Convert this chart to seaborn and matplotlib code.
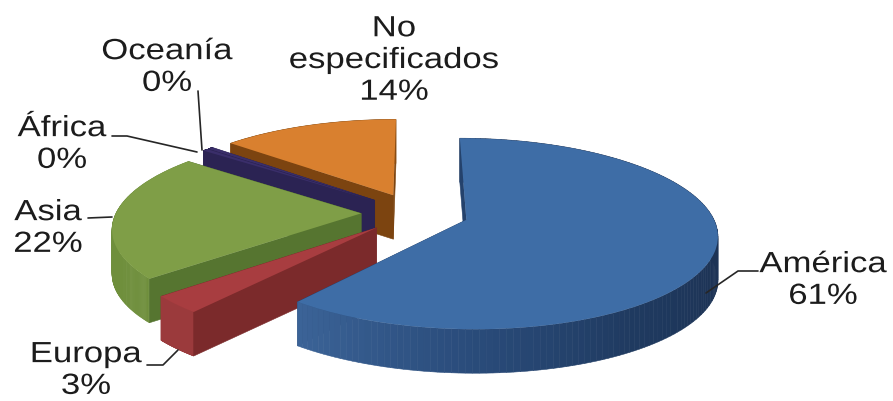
import numpy as np
import seaborn as sns
import matplotlib
matplotlib.use("Agg")
import matplotlib.pyplot as plt
from matplotlib.patheffects import AbstractPathEffect
from matplotlib.transforms import Affine2D, Transform

# Share of each region, in percent (the two smallest round down to 0%)
regions = ["América", "Europa", "Asia", "África", "Oceanía", "No\nespecificados"]
shares = [60.8, 3.0, 21.8, 0.4, 0.4, 13.6]

top_colors = ["#3e6da6", "#a83d40", "#7f9e47", "#3a2e6a", "#3a2e6a", "#d9802f"]
rim_ramps = [
    ["#3b6397", "#2a4c7b", "#1f3a60", "#1d3355", "#1d3355", "#1d3355", "#1d3355"],
    ["#9b3a3c", "#9b3a3c"],
    ["#6f8f3c", "#6f8f3c"],
    ["#2b2353", "#2b2353"],
    ["#2b2353", "#2b2353"],
    ["#8a4d12", "#8a4d12"],
]
face_colors = ["#24426c", "#7b2a2b", "#567530", "#2b2353", "#2b2353", "#7c4410"]

# Slices are painted from the back of the pie to the front
paint_order = [5, 4, 3, 2, 1, 0]
DEPTH = 44
RIM_STEPS = 160


class TiltedDisk(Transform):
    """Perspective view of the unit pie, giving figure pixel coordinates."""
    input_dims = output_dims = 2
    is_separable = False

    def __init__(self, cx=415, cy=213, rx=245, ry=91.5, k=0.1444):
        super().__init__()
        self.params = cx, cy, rx, ry, k

    def transform_non_affine(self, values):
        values = np.asarray(values, dtype=float)
        cx, cy, rx, ry, k = self.params
        w = 1.0 / (1.0 + k * values[:, 1])
        return np.column_stack((cx + rx * values[:, 0] * w,
                                cy - ry * values[:, 1] * w))


class Widen(AbstractPathEffect):
    """Stretch glyph outlines horizontally about the middle of each line."""

    def __init__(self, factor):
        super().__init__()
        self.factor = factor

    def draw_path(self, renderer, gc, tpath, affine, rgbFace=None):
        box = tpath.get_extents()
        mid = (box.x0 + box.x1) / 2
        stretch = Affine2D().translate(-mid, 0).scale(self.factor, 1).translate(mid, 0)
        renderer.draw_path(gc, tpath, stretch + affine, rgbFace)


sns.set_theme(style="white")
plt.rcParams["font.family"] = ["Liberation Sans", "DejaVu Sans"]

fig = plt.figure(figsize=(8.93, 4.01), dpi=100, facecolor="white")
ax = fig.add_axes([0, 0, 1, 1])
wedges, _ = ax.pie(shares, colors=top_colors, startangle=90, counterclock=False,
                   explode=[0.22] * len(shares), wedgeprops={"linewidth": 0})
ax.set_aspect("auto")
ax.set_xlim(0, 893)
ax.set_ylim(401, 0)
ax.axis("off")

tilt = TiltedDisk()


def rim_point(wedge, angles):
    """Pixel positions of points on a slice's outer edge."""
    rad = np.radians(angles)
    uv = np.column_stack((wedge.center[0] + np.cos(rad),
                          wedge.center[1] + np.sin(rad)))
    return tilt.transform(uv)


def radial_face(wedge, angle, color, z):
    """Cut face of a slice running from its apex to the rim."""
    apex = tilt.transform(np.array([wedge.center]))[0]
    end = rim_point(wedge, [angle])[0]
    xs = [apex[0], end[0], end[0], apex[0]]
    ys = [apex[1], end[1], end[1] + DEPTH, apex[1] + DEPTH]
    ax.fill(xs, ys, color=color, lw=0.4, zorder=z)


for z, idx in enumerate(paint_order, start=2):
    wedge = wedges[idx]
    radial_face(wedge, wedge.theta1, face_colors[idx], z)
    ramp = sns.blend_palette(rim_ramps[idx], RIM_STEPS)
    angles = np.linspace(wedge.theta1, wedge.theta2, RIM_STEPS + 1)
    arc = rim_point(wedge, angles)
    for j in range(RIM_STEPS):
        a, b = arc[j], arc[j + 1]
        ax.fill([a[0], b[0], b[0], a[0]],
                [a[1], b[1], b[1] + DEPTH, a[1] + DEPTH],
                color=ramp[j], lw=0.4, zorder=z)
    radial_face(wedge, wedge.theta2, face_colors[idx], z)
    wedge.set_transform(tilt + ax.transData)
    wedge.set_zorder(z + 0.5)

# Region labels with their rounded share
label_centers = [(823, 280), (86, 370), (48, 228), (62, 144), (167, 67), (394, 60)]
for name, share, (x, y) in zip(regions, shares, label_centers):
    ax.text(x, y, f"{name}\n{share:.0f}%", ha="center", va="center", fontsize=21,
            linespacing=1.17, color="#1c1c1c", zorder=20, path_effects=[Widen(1.19)])

# Leader lines from the labels to their slices
leaders = [
    ([706, 738, 758], [293, 271, 271]),
    ([178, 163, 147], [350, 365, 365]),
    ([88, 112], [218, 217]),
    ([112, 127, 197], [136, 136, 152]),
    ([198, 202], [91, 150]),
]
for xs, ys in leaders:
    ax.plot(xs, ys, color="#262626", lw=1.2, zorder=15)

fig.savefig("out.png", dpi=100)
